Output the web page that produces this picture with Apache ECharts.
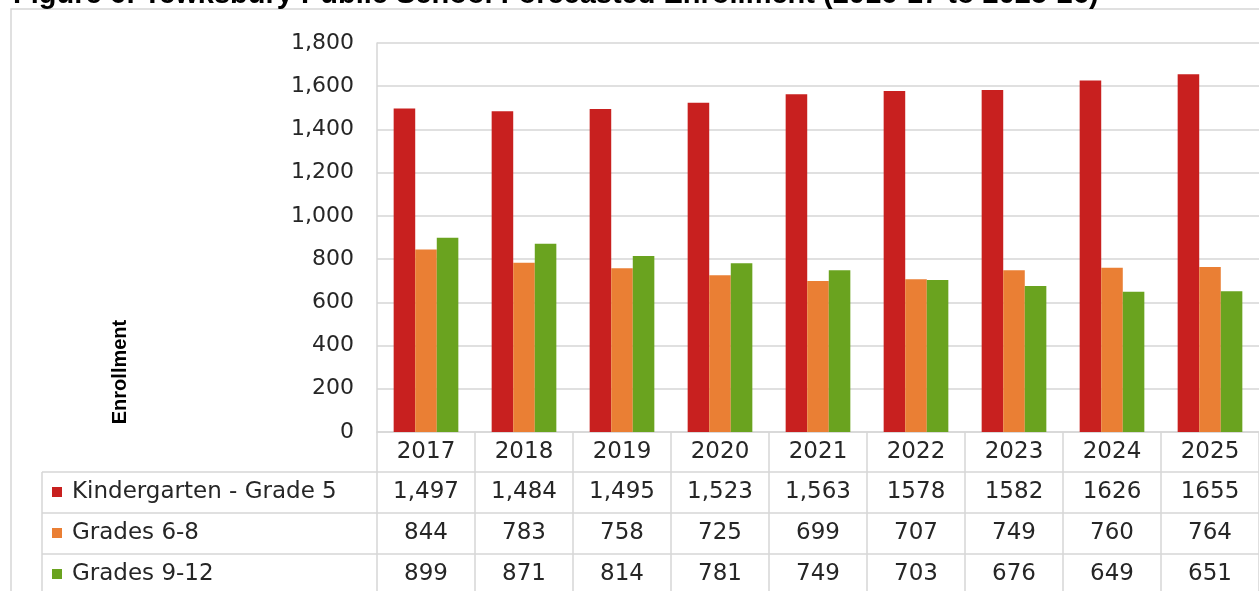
<!DOCTYPE html>
<html>
<head>
<meta charset="utf-8">
<title>Tewksbury Forecasted Enrollment</title>
<script src="https://cdn.jsdelivr.net/npm/echarts@6/dist/echarts.min.js"></script>
<style>
  html, body { margin: 0; padding: 0; background: #fff; }
  #chart { width: 1259px; height: 591px; }
</style>
</head>
<body>
<div id="chart"></div>
<script>
// data
var years = ['2017', '2018', '2019', '2020', '2021', '2022', '2023', '2024', '2025'];
var k5 = [1497, 1484, 1495, 1523, 1563, 1578, 1582, 1626, 1655];
var g68 = [844, 783, 758, 725, 699, 707, 749, 760, 764];
var g912 = [899, 871, 814, 781, 749, 703, 676, 649, 651];
// table text as printed (some cells have thousands separators, some not)
var k5Labels = ['1,497', '1,484', '1,495', '1,523', '1,563', '1578', '1582', '1626', '1655'];
var g68Labels = ['844', '783', '758', '725', '699', '707', '749', '760', '764'];
var g912Labels = ['899', '871', '814', '781', '749', '703', '676', '649', '651'];
var yTicks = { min: 0, max: 1800, step: 200 };

var lineColor = '#d6d6d6';
var textColor = '#262626';
var tableFont = '"DejaVu Sans", "Open Sans", sans-serif';

var chart = echarts.init(document.getElementById('chart'));

// one category axis per table row, stacked below the plot
function tableAxis(offset, labels, tickLen) {
    return {
        type: 'category',
        data: years,
        position: 'bottom',
        offset: offset,
        axisLine: { show: true, lineStyle: { color: lineColor, width: 1.5 } },
        axisTick: { show: true, interval: 0, length: tickLen, lineStyle: { color: lineColor, width: 1.5 } },
        axisLabel: {
            interval: 0,
            margin: 8,
            color: textColor,
            fontFamily: tableFont,
            fontSize: 23,
            lineHeight: 24,
            formatter: function (v, i) { return labels ? labels[i] : v; }
        }
    };
}

var option = {
    animation: false,
    backgroundColor: '#fff',
    grid: { left: 377, top: 43, width: 884, bottom: 159, containLabel: false },
    legend: {
        orient: 'vertical',
        left: 52,
        top: 480,
        height: 130,
        padding: 0,
        itemWidth: 10,
        itemHeight: 10,
        itemGap: 17,
        icon: 'rect',
        selectedMode: false,
        textStyle: { color: textColor, fontFamily: tableFont, fontSize: 23, lineHeight: 24, padding: [0, 0, 0, 5] },
        data: ['Kindergarten - Grade 5', 'Grades 6-8', 'Grades 9-12']
    },
    xAxis: [
        tableAxis(0, null, 40),
        tableAxis(40, k5Labels, 41),
        tableAxis(81, g68Labels, 41),
        tableAxis(122, g912Labels, 60)
    ],
    yAxis: {
        type: 'value',
        min: yTicks.min,
        max: yTicks.max,
        interval: yTicks.step,
        axisLine: { show: true, lineStyle: { color: lineColor, width: 1.5 } },
        axisTick: { show: false },
        splitLine: { lineStyle: { color: lineColor, width: 1.5 } },
        axisLabel: {
            margin: 23,
            color: textColor,
            fontFamily: tableFont,
            fontSize: 22,
            formatter: function (v) { return v.toLocaleString('en-US'); }
        }
    },
    series: [
        { name: 'Kindergarten - Grade 5', type: 'bar', data: k5, barGap: '0%', barCategoryGap: '34%', itemStyle: { color: '#c8201f' } },
        { name: 'Grades 6-8', type: 'bar', data: g68, itemStyle: { color: '#ea7f34' } },
        { name: 'Grades 9-12', type: 'bar', data: g912, itemStyle: { color: '#6aa31f' } }
    ],
    graphic: [
        // outer chart frame (top + left edges visible)
        { type: 'polyline', silent: true, shape: { points: [[11, 600], [11, 9], [1270, 9]] },
          style: { fill: null, stroke: lineColor, lineWidth: 1.5 } },
        // left part of the data table
        { type: 'line', silent: true, shape: { x1: 42, y1: 472, x2: 377, y2: 472 }, style: { stroke: lineColor, lineWidth: 1.5 } },
        { type: 'line', silent: true, shape: { x1: 42, y1: 513, x2: 377, y2: 513 }, style: { stroke: lineColor, lineWidth: 1.5 } },
        { type: 'line', silent: true, shape: { x1: 42, y1: 554, x2: 377, y2: 554 }, style: { stroke: lineColor, lineWidth: 1.5 } },
        { type: 'line', silent: true, shape: { x1: 42, y1: 472, x2: 42, y2: 600 }, style: { stroke: lineColor, lineWidth: 1.5 } },
        // axis title
        { type: 'text', silent: true, x: 120, y: 372, rotation: Math.PI / 2,
          style: { text: 'Enrollment', fill: '#000', font: 'bold 20px "Liberation Sans Narrow", "Liberation Sans", Arial, sans-serif',
                   textAlign: 'center', textVerticalAlign: 'middle' } },
        // figure caption, cut off by the top edge
        { type: 'text', silent: true, x: 13, y: -5,
          style: { text: 'Figure 6: Tewksbury Public School Forecasted Enrollment (2016-17 to 2025-26)', fill: '#000',
                   font: 'bold 29px "Liberation Sans", Arial, sans-serif', textAlign: 'left', textVerticalAlign: 'middle' } }
    ]
};

chart.setOption(option);
</script>
</body>
</html>
